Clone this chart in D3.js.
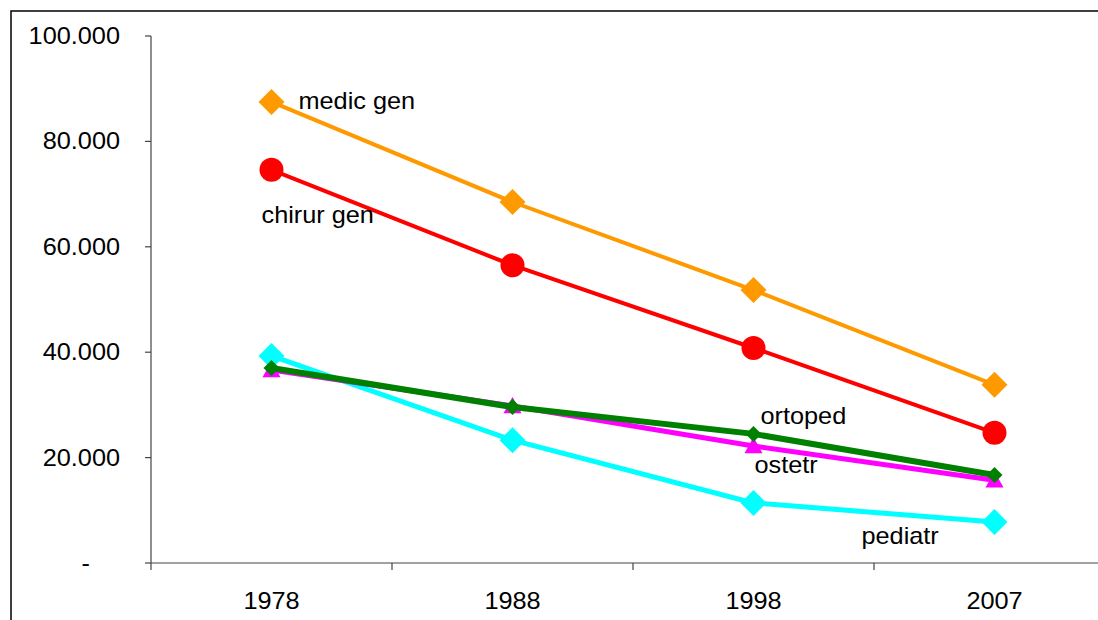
<!doctype html>
<html>
<head>
<meta charset="UTF-8" />
<title>medici</title>
<script src="https://d3js.org/d3.v7.min.js"></script>
<style>
  body { margin: 0; background: #fff; }
  text { font-family: "Liberation Sans", Arial, sans-serif; fill: #000; }
</style>
</head>
<body>
<div id="container"></div>
<script>

// data
const years = ["1978", "1988", "1998", "2007"];
const medicGen  = [87500, 68500, 51800, 33800];
const chirurGen = [74600, 56500, 40800, 24700];
const pediatr   = [39300, 23300, 11400, 7800];
const ostetr    = [36600, 29800, 22200, 15700];
const ortoped   = [37000, 29600, 24500, 16700];
const yTicks = [0, 20000, 40000, 60000, 80000, 100000];

const width = 1098;
const height = 620;
const marginLeft = 151;
const marginTop = 36;
const plotBottom = 563;
const band = 241;
const fs = 23;
const sx = 1.1; // text is a bit wider than plain Arial

// series in drawing order
const series = [
  { name: "medic gen",  values: medicGen,  color: "#FF9900", width: 4, marker: "diamond", size: 13,
    label: { i: 0, dx: 27, dy: 7 } },
  { name: "chirur gen", values: chirurGen, color: "#FF0000", width: 4, marker: "circle", size: 12,
    label: { i: 0, dx: -10, dy: 53 } },
  { name: "pediatr",    values: pediatr,   color: "#00FFFF", width: 5, marker: "diamond", size: 13,
    label: { i: 3, dx: -133, dy: 22 } },
  { name: "ostetr",     values: ostetr,    color: "#FF00FF", width: 5, marker: "triangle", size: 9,
    label: { i: 2, dx: 1, dy: 27 } },
  { name: "ortoped",    values: ortoped,   color: "#008000", width: 6, marker: "diamond", size: 8,
    label: { i: 2, dx: 7, dy: -10 } }
];

const x = d3.scaleBand()
    .domain(years)
    .range([marginLeft, marginLeft + band * years.length]);

const y = d3.scaleLinear()
    .domain([0, 100000])
    .range([plotBottom, marginTop]);

const svg = d3.select("#container").append("svg")
    .attr("width", width)
    .attr("height", height);

// outer frame
svg.append("rect")
    .attr("x", 11).attr("y", 11)
    .attr("width", width + 20).attr("height", height + 20)
    .attr("fill", "none")
    .attr("stroke", "#000")
    .attr("stroke-width", 1.5);

const fmt = d => d === 0 ? "-" : d3.format(",")(d).replace(/,/g, ".");

// y axis
const yAxis = svg.append("g")
    .attr("transform", `translate(${marginLeft},0)`)
    .call(d3.axisLeft(y).tickValues(yTicks).tickFormat(fmt).tickSize(6).tickSizeOuter(0));
yAxis.selectAll("path, line").attr("stroke", "#444").attr("stroke-width", 1.2);
yAxis.selectAll(".tick").attr("transform", null);
yAxis.selectAll(".tick line").attr("y1", d => y(d)).attr("y2", d => y(d));
yAxis.selectAll("text")
    .attr("font-size", fs)
    .attr("x", null).attr("dy", null)
    .attr("transform", d => `translate(${d === 0 ? -61 : -31},${y(d) + 8}) scale(${sx},1)`);
yAxis.select(".domain").attr("d", `M0,${marginTop}V${plotBottom + 7}`);

// x axis line and ticks
svg.append("line")
    .attr("x1", marginLeft).attr("x2", width)
    .attr("y1", plotBottom).attr("y2", plotBottom)
    .attr("stroke", "#444").attr("stroke-width", 1.2);
svg.append("g").selectAll("line")
    .data(years.slice(1))
    .join("line")
    .attr("x1", d => x(d)).attr("x2", d => x(d))
    .attr("y1", plotBottom).attr("y2", plotBottom + 7)
    .attr("stroke", "#444").attr("stroke-width", 1.2);
svg.append("g").selectAll("text")
    .data(years)
    .join("text")
    .attr("text-anchor", "middle")
    .attr("font-size", fs)
    .attr("transform", d => `translate(${x(d) + x.bandwidth() / 2},${plotBottom + 46}) scale(${sx},1)`)
    .text(d => d);

const cx = i => x(years[i]) + x.bandwidth() / 2;
const line = d3.line().x((d, i) => cx(i)).y(d => y(d));

function marker(g, s, d, i) {
  const px = cx(i), py = y(d), r = s.size;
  if (s.marker === "circle") {
    g.append("circle").attr("cx", px).attr("cy", py).attr("r", r).attr("fill", s.color);
  } else if (s.marker === "diamond") {
    g.append("path")
      .attr("d", `M${px},${py - r}L${px + r},${py}L${px},${py + r}L${px - r},${py}Z`)
      .attr("fill", s.color);
  } else {
    g.append("path")
      .attr("d", `M${px},${py - r}L${px + r},${py + r * 0.8}L${px - r},${py + r * 0.8}Z`)
      .attr("fill", s.color);
  }
}

series.forEach(s => {
  const g = svg.append("g");
  g.append("path")
    .datum(s.values)
    .attr("d", line)
    .attr("fill", "none")
    .attr("stroke", s.color)
    .attr("stroke-width", s.width);
  s.values.forEach((d, i) => marker(g, s, d, i));
});

// data labels
series.forEach(s => {
  const l = s.label;
  svg.append("text")
    .attr("font-size", fs)
    .attr("transform", `translate(${cx(l.i) + l.dx},${y(s.values[l.i]) + l.dy}) scale(${sx},1)`)
    .text(s.name);
});

</script>
</body>
</html>
